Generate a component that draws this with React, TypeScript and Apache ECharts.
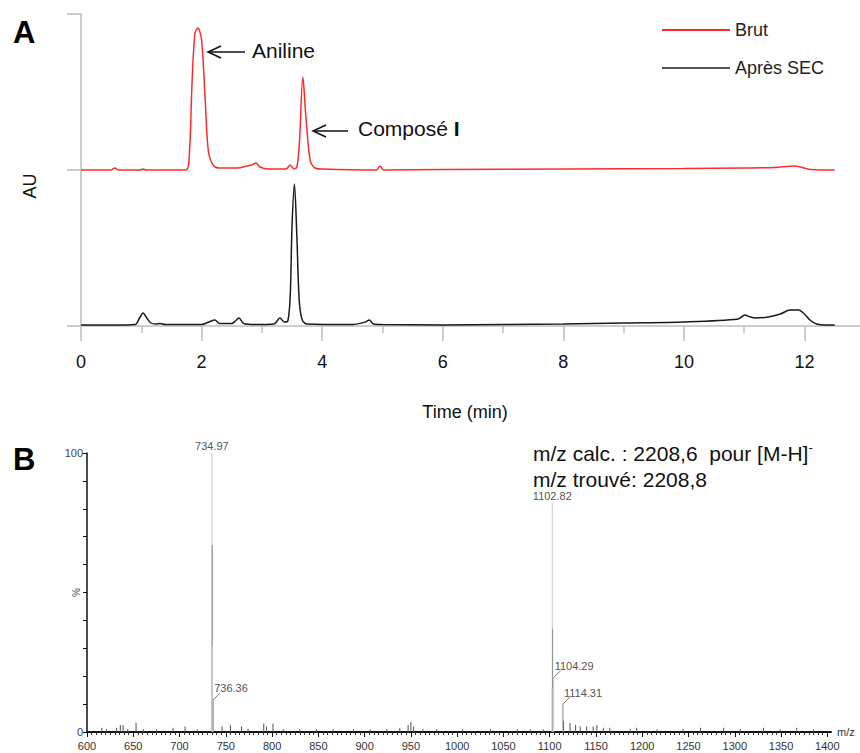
import React, { useEffect, useRef } from "react";
import * as echarts from "echarts";

// ---------- Panel A: HPLC chromatograms (signal heights in arbitrary AU units) ----------
const BRUT_TIME = [0, 0.5, 0.56, 0.62, 0.98, 1.03, 1.08, 1.74, 1.8, 1.84, 1.89, 1.94, 2.0, 2.06, 2.11, 2.19, 2.3, 2.6, 2.75, 2.83, 2.9, 2.97, 3.1, 3.4, 3.47, 3.53, 3.58, 3.62, 3.68, 3.73, 3.8, 3.88, 4.0, 4.9, 4.96, 5.02, 6.0, 8.0, 10.0, 11.0, 11.5, 11.84, 12.1, 12.5];
const BRUT_AU = [0, 0, 2, 0, 0, 1, 0, 0, 20, 85, 137, 142, 130, 70, 20, 5, 2, 2, 4, 5, 7, 3, 1, 1, 5, 1, 3, 25, 93, 53, 10, 2, 1, 0, 4, 0, 0.5, 1, 1.5, 2, 2.5, 4, 0.5, 0];
const BRUT_OFFSET = 156; // vertical offset of the upper trace

const SEC_TIME = [0, 0.5, 0.9, 0.97, 1.03, 1.09, 1.16, 1.24, 1.31, 1.4, 2.0, 2.12, 2.22, 2.3, 2.5, 2.56, 2.62, 2.7, 2.9, 3.2, 3.3, 3.37, 3.43, 3.47, 3.5, 3.54, 3.58, 3.62, 3.67, 3.75, 4.5, 4.72, 4.78, 4.85, 5.0, 6.0, 7.0, 8.0, 9.0, 10.0, 10.9, 11.01, 11.1, 11.18, 11.4, 11.6, 11.76, 11.9, 12.0, 12.09, 12.2, 12.35, 12.5];
const SEC_AU = [1, 1, 1.5, 8, 13, 8, 3, 2, 2.5, 1.5, 1.5, 4, 6, 2.5, 2.5, 5, 8, 2.5, 1.5, 2, 8, 4, 5, 30, 100, 142, 90, 25, 6, 2, 1.5, 4, 6, 2, 1.5, 1, 1.5, 2, 3, 4, 7, 11, 9, 8, 9, 12, 16, 16, 12, 6, 2, 1, 1];

const XTICKS_A = [0, 2, 4, 6, 8, 10, 12];
const XMINOR_A = [1, 3, 5, 7, 9, 11];

// ---------- Panel B: mass spectrum ----------
const PEAK_MZ = [734.97, 735.3, 735.66, 736.36, 1102.82, 1103.15, 1102.5, 1104.29, 1114.31];
const PEAK_INT = [100, 67, 31, 11.5, 82, 37, 16, 19.5, 10];
const PEAK_DARK = [false, true, false, true, false, true, false, false, true];

const NOISE_MZ = [616, 621, 632, 636, 639, 644, 653, 661, 675, 693, 706, 719, 746, 755, 767, 774, 791, 794, 801, 812, 830, 848, 866, 888, 906, 924, 938, 947, 950, 953, 963, 978, 1006, 1036, 1065, 1079, 1093, 1115, 1122, 1128, 1133, 1140, 1147, 1151, 1158, 1165, 1187, 1194, 1216, 1244, 1263, 1288, 1306, 1331, 1349, 1367, 1385];
const NOISE_INT = [1.5, 1, 1.5, 2.5, 2.5, 1, 3.3, 1, 1, 1.5, 2, 1, 2, 2.5, 2, 1.2, 3, 2, 3, 1, 1, 1, 1, 1, 1, 1, 1.5, 2.5, 3.6, 2, 1, 1, 1, 1, 1, 1, 1, 4, 3.2, 2.5, 2, 2, 2, 2.5, 1.5, 1.5, 1, 1.5, 1, 1, 1.5, 1.5, 1, 1.5, 1, 1.5, 1];

const LABEL_MZ = [734.97, 736.36, 1102.82, 1104.29, 1114.31];
const LABEL_INT = [100, 11.5, 82, 19.5, 10];
const LABEL_SIDE = [false, true, false, true, true];

const XTICKS_B = [600, 650, 700, 750, 800, 850, 900, 950, 1000, 1050, 1100, 1150, 1200, 1250, 1300, 1350, 1400];
const XMINOR_B: number[] = [];
for (let v = 605; v <= 1400; v += 5) if (v % 50 !== 0) XMINOR_B.push(v);

const FONT = "'Liberation Sans', Arial, sans-serif";

export default function App() {
  const ref = useRef<HTMLDivElement>(null);
  useEffect(() => {
    if (!ref.current) return;
    const chart = echarts.init(ref.current, undefined, { renderer: "svg" });
    const grayAxis = "#bdbdbd";

    const brutData = BRUT_TIME.map((t, i) => [t, BRUT_AU[i] + BRUT_OFFSET]);
    const secData = SEC_TIME.map((t, i) => [t, SEC_AU[i]]);

    const peakData = PEAK_MZ.map((m, i) => ({
      value: [m, PEAK_INT[i]],
      itemStyle: { color: PEAK_DARK[i] ? "#8c8c8c" : "#c9c9c9" },
    }));
    const noiseData = NOISE_MZ.map((m, i) => [m, NOISE_INT[i]]);
    const labelData = LABEL_MZ.map((m, i) => [m, LABEL_INT[i]]);

    const stickRender = (params: any, api: any) => {
      const x = api.value(0);
      const h = api.value(1);
      const p0 = api.coord([x, 0]);
      const p1 = api.coord([x, h]);
      return {
        type: "line",
        shape: { x1: p0[0], y1: p0[1], x2: p1[0], y2: p1[1] },
        style: { stroke: api.visual("color"), lineWidth: 1 },
      };
    };

    const labelRender = (params: any, api: any) => {
      const i = params.dataIndex;
      const p = api.coord([api.value(0), api.value(1)]);
      const text = LABEL_MZ[i].toFixed(2);
      const textStyle = { fontSize: 11, fontFamily: FONT, fill: "#555" };
      if (!LABEL_SIDE[i]) {
        return {
          type: "text",
          x: p[0],
          y: p[1] - 2,
          style: { ...textStyle, text, align: "center", verticalAlign: "bottom", textAlign: "center", textVerticalAlign: "bottom" },
        };
      }
      return {
        type: "group",
        children: [
          { type: "line", shape: { x1: p[0], y1: p[1], x2: p[0] + 7, y2: p[1] - 7 }, style: { stroke: "#777", lineWidth: 1 } },
          {
            type: "text",
            x: p[0] + 1,
            y: p[1] - 6,
            style: { ...textStyle, text, align: "left", verticalAlign: "bottom", textAlign: "left", textVerticalAlign: "bottom" },
          },
        ],
      };
    };

    const t = (x: number, y: number, text: string, extra: any = {}) => ({
      type: "text",
      x,
      y,
      style: { text, fontFamily: FONT, fill: "#111", textVerticalAlign: "middle", verticalAlign: "middle", ...extra },
    });

    chart.setOption({
      animation: false,
      backgroundColor: "#fff",
      textStyle: { fontFamily: FONT },
      grid: [
        { left: 81, top: 14, width: 779, height: 312 },
        { left: 87, top: 453, width: 744, height: 279 },
      ],
      legend: {
        orient: "vertical",
        left: 662,
        top: 20,
        padding: 0,
        icon: "rect",
        itemWidth: 68,
        itemHeight: 2,
        itemGap: 18,
        textStyle: { fontSize: 18, lineHeight: 20, color: "#222", fontFamily: FONT },
        data: [
          { name: "Brut", itemStyle: { color: "#ff2b2b" } },
          { name: "Après SEC", itemStyle: { color: "#555" } },
        ],
      },
      xAxis: [
        {
          type: "value", gridIndex: 0, min: 0, max: 12.92, position: "bottom",
          axisLine: { lineStyle: { color: grayAxis, width: 1.5 } },
          axisTick: { show: true, length: 15, customValues: XTICKS_A, lineStyle: { color: grayAxis, width: 1.5 } },
          axisLabel: { customValues: XTICKS_A, fontSize: 18, color: "#111", margin: 27, fontFamily: FONT },
          splitLine: { show: false },
        },
        {
          type: "value", gridIndex: 0, min: 0, max: 12.92, position: "bottom",
          axisLine: { show: false },
          axisTick: { show: true, length: 7, customValues: XMINOR_A, lineStyle: { color: grayAxis, width: 1.5 } },
          axisLabel: { show: false },
          splitLine: { show: false },
        },
        {
          type: "value", gridIndex: 1, min: 600, max: 1404, position: "bottom",
          name: "m/z", nameLocation: "end", nameGap: 6,
          nameTextStyle: { fontSize: 11, color: "#333", fontFamily: FONT },
          axisLine: { lineStyle: { color: "#111", width: 2 } },
          axisTick: { show: true, length: 5, customValues: XTICKS_B, lineStyle: { color: "#111", width: 1 } },
          axisLabel: {
            customValues: XTICKS_B, fontSize: 11, color: "#333", margin: 8, fontFamily: FONT,
            formatter: (v: number) => String(v),
          },
          splitLine: { show: false },
        },
        {
          type: "value", gridIndex: 1, min: 600, max: 1404, position: "bottom",
          axisLine: { show: false },
          axisTick: { show: true, length: 3, customValues: XMINOR_B, lineStyle: { color: "#333", width: 1 } },
          axisLabel: { show: false },
          splitLine: { show: false },
        },
      ],
      yAxis: [
        {
          type: "value", gridIndex: 0, min: 0, max: 312, interval: 156,
          axisLine: { show: true, lineStyle: { color: grayAxis, width: 1.5 } },
          axisTick: { show: true, length: 14, lineStyle: { color: grayAxis, width: 1.5 } },
          axisLabel: { show: false },
          splitLine: { show: false },
        },
        {
          type: "value", gridIndex: 1, min: 0, max: 100, interval: 10,
          name: "%", nameLocation: "middle", nameRotate: 90, nameGap: 6, nameMoveOverlap: false,
          nameTextStyle: { fontSize: 10, color: "#444", fontFamily: FONT },
          axisLine: { show: true, lineStyle: { color: "#111", width: 1.5 } },
          axisTick: { show: true, length: 4, lineStyle: { color: "#111", width: 1 } },
          axisLabel: {
            fontSize: 11, color: "#444", margin: 4, fontFamily: FONT,
            formatter: (v: number) => (v === 0 || v === 100 ? String(v) : ""),
          },
          splitLine: { show: false },
        },
      ],
      series: [
        {
          name: "Brut", type: "line", xAxisIndex: 0, yAxisIndex: 0, data: brutData,
          symbol: "none", showSymbol: false, smooth: 0.3,
          lineStyle: { color: "#ff2b2b", width: 1.5 }, itemStyle: { color: "#ff2b2b" },
        },
        {
          name: "Après SEC", type: "line", xAxisIndex: 0, yAxisIndex: 0, data: secData,
          symbol: "none", showSymbol: false, smooth: 0.3,
          lineStyle: { color: "#1a1a1a", width: 1.5 }, itemStyle: { color: "#1a1a1a" },
        },
        {
          name: "noise", type: "custom", xAxisIndex: 2, yAxisIndex: 1, data: noiseData,
          renderItem: stickRender, itemStyle: { color: "#555" }, silent: true,
        },
        {
          name: "peaks", type: "custom", xAxisIndex: 2, yAxisIndex: 1, data: peakData,
          renderItem: stickRender, silent: true,
        },
        {
          name: "labels", type: "custom", xAxisIndex: 2, yAxisIndex: 1, data: labelData,
          renderItem: labelRender, silent: true,
        },
      ],
      graphic: [
        t(13, 32, "A", { fontSize: 31, fontWeight: "bold", fill: "#000" }),
        t(13, 459, "B", { fontSize: 31, fontWeight: "bold", fill: "#000" }),
        { ...t(30, 186, "AU", { fontSize: 18, textAlign: "center", align: "center" }), rotation: Math.PI / 2 },
        t(465, 412, "Time (min)", { fontSize: 18, textAlign: "center", align: "center" }),
        t(252, 50, "Aniline", { fontSize: 21 }),
        { type: "line", shape: { x1: 208, y1: 52, x2: 245, y2: 52 }, style: { stroke: "#111", lineWidth: 1.5 } },
        { type: "polyline", shape: { points: [[221, 46], [208, 52], [221, 58]] }, style: { stroke: "#111", lineWidth: 1.5, fill: "none" } },
        {
          type: "text", x: 358, y: 128,
          style: {
            text: "{n|Composé }{b|I}", fontFamily: FONT, fill: "#111",
            textVerticalAlign: "middle", verticalAlign: "middle",
            rich: { n: { fontSize: 21, fontFamily: FONT, fill: "#111" }, b: { fontSize: 21, fontWeight: "bold", fontFamily: FONT, fill: "#111" } },
          },
        },
        { type: "line", shape: { x1: 313, y1: 131, x2: 348, y2: 131 }, style: { stroke: "#111", lineWidth: 1.5 } },
        { type: "polyline", shape: { points: [[326, 125], [313, 131], [326, 137]] }, style: { stroke: "#111", lineWidth: 1.5, fill: "none" } },
        {
          type: "text", x: 533, y: 453,
          style: {
            text: "{m|m/z calc. : 2208,6  pour [M-H]}{s|-}", fontFamily: FONT, fill: "#111",
            textVerticalAlign: "middle", verticalAlign: "middle",
            rich: {
              m: { fontSize: 21, lineHeight: 24, fontFamily: FONT, fill: "#111" },
              s: { fontSize: 13, lineHeight: 24, verticalAlign: "top", fontFamily: FONT, fill: "#111" },
            },
          },
        },
        t(533, 479, "m/z trouvé: 2208,8", { fontSize: 21 }),
      ],
    });
    return () => chart.dispose();
  }, []);
  return <div ref={ref} style={{ position: "fixed", left: 0, top: 0, width: 860, height: 753 }} />;
}
